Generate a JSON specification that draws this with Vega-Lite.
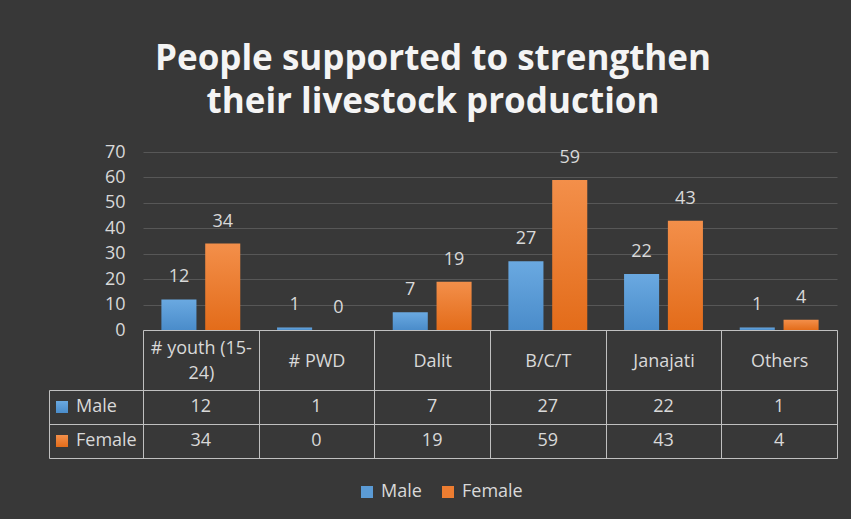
{
  "$schema": "https://vega.github.io/schema/vega-lite/v6.json",
  "background": "#383838",
  "padding": {"left": 48, "right": 15, "top": 42, "bottom": 18},
  "autosize": {"type": "pad"},
  "config": {
    "font": "Open Sans",
    "view": {"stroke": null}
  },
  "title": {
    "text": ["People supported to strengthen", "their livestock production"],
    "font": "Open Sans",
    "fontSize": 35,
    "fontWeight": "bold",
    "color": "#f4f4f4",
    "lineHeight": 43,
    "anchor": "middle",
    "offset": 23,
    "dx": -10
  },
  "datasets": {
    "people": [
      {"group": "# youth (15-24)", "gender": "Male", "count": 12},
      {"group": "# youth (15-24)", "gender": "Female", "count": 34},
      {"group": "# PWD", "gender": "Male", "count": 1},
      {"group": "# PWD", "gender": "Female", "count": 0},
      {"group": "Dalit", "gender": "Male", "count": 7},
      {"group": "Dalit", "gender": "Female", "count": 19},
      {"group": "B/C/T", "gender": "Male", "count": 27},
      {"group": "B/C/T", "gender": "Female", "count": 59},
      {"group": "Janajati", "gender": "Male", "count": 22},
      {"group": "Janajati", "gender": "Female", "count": 43},
      {"group": "Others", "gender": "Male", "count": 1},
      {"group": "Others", "gender": "Female", "count": 4}
    ]
  },
  "spacing": 60,
  "bounds": "flush",
  "resolve": {
    "scale": {"color": "independent", "x": "independent", "y": "independent"},
    "legend": {"color": "independent"}
  },
  "vconcat": [
    {
      "width": 694,
      "height": 178,
      "data": {"name": "people"},
      "encoding": {
        "x": {
          "field": "group",
          "type": "nominal",
          "sort": null,
          "scale": {
            "domain": ["# youth (15-24)", "# PWD", "Dalit", "B/C/T", "Janajati", "Others"],
            "paddingInner": 0,
            "paddingOuter": 0
          },
          "axis": {
            "title": null,
            "labelAngle": 0,
            "labelExpr": "datum.value == '# youth (15-24)' ? ['# youth (15-', '24)'] : datum.value",
            "labelFontSize": 18,
            "labelColor": "#d9d9d9",
            "labelBaseline": "middle",
            "labelLineHeight": 25,
            "labelPadding": {"condition": {"test": "datum.value == '# youth (15-24)'", "value": -42}, "value": -29},
            "labelLimit": 0,
            "domainColor": "#c0c0c0",
            "tickColor": "#c0c0c0",
            "tickSize": 60,
            "tickBand": "extent",
            "grid": false
          }
        },
        "xOffset": {
          "field": "gender",
          "type": "nominal",
          "scale": {"domain": ["Male", "Female"], "paddingInner": 0.2, "paddingOuter": 0.42}
        },
        "y": {
          "field": "count",
          "type": "quantitative",
          "scale": {"domain": [0, 70], "nice": false},
          "axis": {
            "title": null,
            "values": [0, 10, 20, 30, 40, 50, 60, 70],
            "labelFontSize": 18,
            "labelColor": "#d9d9d9",
            "labelPadding": 18,
            "domain": false,
            "ticks": false,
            "gridColor": "#575757",
            "gridWidth": 1
          }
        }
      },
      "layer": [
        {
          "mark": {"type": "bar"},
          "encoding": {
            "color": {
              "field": "gender",
              "type": "nominal",
              "scale": {
                "domain": ["Male", "Female"],
                "range": [
                  {"expr": "{gradient: 'linear', x1: 0, y1: 0, x2: 0, y2: 1, stops: [{offset: 0, color: '#6aa9e1'}, {offset: 1, color: '#4a8cca'}]}"},
                  {"expr": "{gradient: 'linear', x1: 0, y1: 0, x2: 0, y2: 1, stops: [{offset: 0, color: '#f38f4a'}, {offset: 1, color: '#e36c1a'}]}"}
                ]
              },
              "legend": {
                "title": null,
                "orient": "none",
                "legendX": -90,
                "legendY": 246,
                "direction": "vertical",
                "symbolType": "square",
                "symbolSize": 144,
                "symbolStrokeWidth": 0,
                "labelFontSize": 18,
                "labelColor": "#d9d9d9",
                "labelOffset": 5,
                "rowPadding": 16,
                "padding": 0
              }
            }
          }
        },
        {
          "mark": {"type": "text", "dy": -22, "fontSize": 18, "color": "#d9d9d9", "baseline": "middle"},
          "encoding": {"text": {"field": "count", "type": "quantitative"}}
        }
      ]
    },
    {
      "width": 694,
      "height": 68,
      "data": {"name": "people"},
      "encoding": {
        "x": {
          "field": "group",
          "type": "nominal",
          "sort": null,
          "scale": {
            "domain": ["# youth (15-24)", "# PWD", "Dalit", "B/C/T", "Janajati", "Others"],
            "paddingInner": 0,
            "paddingOuter": 0
          },
          "axis": {
            "title": null,
            "labels": false,
            "ticks": false,
            "domain": false,
            "grid": true,
            "tickBand": "extent",
            "gridColor": "#c0c0c0",
            "gridWidth": 1
          }
        },
        "y": {
          "field": "gender",
          "type": "nominal",
          "scale": {"domain": ["Male", "Female"], "paddingInner": 0, "paddingOuter": 0},
          "axis": {
            "title": null,
            "labels": false,
            "offset": 94,
            "domainColor": "#c0c0c0",
            "tickColor": "#c0c0c0",
            "tickSize": -788,
            "tickBand": "extent",
            "grid": false
          }
        }
      },
      "layer": [
        {
          "mark": {"type": "text", "fontSize": 18, "color": "#d9d9d9", "baseline": "middle"},
          "encoding": {"text": {"field": "count", "type": "quantitative"}}
        },
        {
          "mark": {"type": "point", "shape": "square", "filled": true, "opacity": 0},
          "encoding": {
            "color": {
              "field": "gender",
              "type": "nominal",
              "scale": {"domain": ["Male", "Female"], "range": ["#5b9bd5", "#ed7d31"]},
              "legend": {
                "title": null,
                "orient": "none",
                "legendX": 215,
                "legendY": 93,
                "direction": "horizontal",
                "symbolType": "square",
                "symbolSize": 144,
                "symbolStrokeWidth": 0,
                "symbolOpacity": 1,
                "labelFontSize": 18,
                "labelColor": "#d9d9d9",
                "labelOffset": 5,
                "columnPadding": 17,
                "padding": 0
              }
            }
          }
        }
      ]
    }
  ]
}
